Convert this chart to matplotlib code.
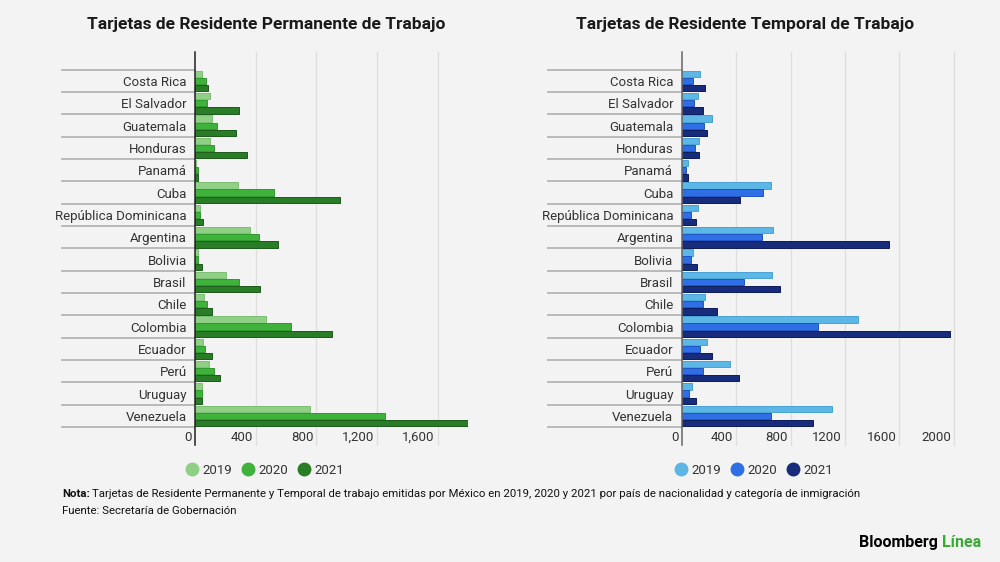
import matplotlib.pyplot as plt
from matplotlib.lines import Line2D
from matplotlib.transforms import ScaledTranslation, blended_transform_factory

plt.rcParams['font.family'] = ['Roboto', 'DejaVu Sans']

# datos
paises = ["Costa Rica", "El Salvador", "Guatemala", "Honduras", "Panamá", "Cuba",
          "República Dominicana", "Argentina", "Bolivia", "Brasil", "Chile",
          "Colombia", "Ecuador", "Perú", "Uruguay", "Venezuela"]
anios = ["2019", "2020", "2021"]

perm_2019 = [48, 97, 114, 101, 9, 286, 31, 365, 22, 207, 57, 471, 53, 92, 48, 757]
perm_2020 = [75, 79, 145, 123, 18, 524, 35, 422, 22, 290, 79, 634, 66, 128, 44, 1254]
perm_2021 = [84, 290, 268, 343, 22, 959, 53, 550, 44, 427, 114, 906, 114, 163, 44, 1800]

temp_2019 = [137, 123, 221, 128, 44, 653, 118, 672, 83, 663, 172, 1296, 187, 358, 74, 1104]
temp_2020 = [81, 91, 164, 96, 29, 596, 69, 589, 69, 459, 157, 1001, 137, 157, 54, 658]
temp_2021 = [172, 157, 187, 128, 44, 427, 103, 1524, 113, 721, 260, 1973, 226, 422, 103, 962]

perm_ticks = [0, 400, 800, 1200, 1600]
perm_ticklabels = ["0", "400", "800", "1,200", "1,600"]
temp_ticks = [0, 400, 800, 1200, 1600, 2000]
temp_ticklabels = ["0", "400", "800", "1200", "1600", "2000"]

verdes = ["#8fd086", "#3eb23a", "#2a7d27"]
verdes_borde = ["#7cbf73", "#2f9a2c", "#1c5a1a"]
azules = ["#5cb7e6", "#2f6fe6", "#172c7d"]
azules_borde = ["#4aa3d4", "#1f55c4", "#0d1c5a"]

BG = "#f3f3f3"

fig = plt.figure(figsize=(10, 5.62), dpi=100)
fig.patch.set_facecolor(BG)


def panel(rect, series, colors, edges, ticks, ticklabels, xmax, axis_color, sep_left):
    ax = fig.add_axes(rect)
    ax.set_facecolor(BG)
    n = len(paises)
    ypos = list(range(n))
    offsets = [-0.32, 0.0, 0.32]
    for vals, off, c, ec in zip(series, offsets, colors, edges):
        ax.barh([y + off for y in ypos], vals, height=0.28, color=c,
                edgecolor=ec, linewidth=0.7, zorder=3)
    ax.set_xlim(0, xmax)
    ax.set_ylim(n - 0.5, -1.3)
    for s in ax.spines.values():
        s.set_visible(False)
    # lineas de cuadricula y eje
    for t in ticks[1:]:
        ax.plot([t, t], [-1.3, n + 0.3], color="#dedede", lw=0.9, zorder=1, clip_on=False)
    ax.plot([0, 0], [-1.3, n + 0.3], color=axis_color, lw=1.1, zorder=4, clip_on=False)
    # separadores de categorias
    tr = blended_transform_factory(ax.transAxes, ax.transData)
    for i in range(n + 1):
        ax.plot([sep_left, 0], [i - 0.5, i - 0.5], color="#b4b4b4", lw=1.3,
                transform=tr, clip_on=False)
    ax.set_yticks(ypos)
    ax.set_yticklabels(paises, fontsize=9.5, color="#333333")
    ax.tick_params(axis="y", length=0, pad=6)
    ax.set_xticks(ticks)
    ax.set_xticklabels(ticklabels, fontsize=9.5, color="#333333", ha="right")
    ax.tick_params(axis="x", length=0, pad=3)
    off = ScaledTranslation(-2.2 / 72, 0, fig.dpi_scale_trans)
    for lab in ax.get_xticklabels():
        lab.set_transform(lab.get_transform() + off)
    return ax


panel([0.195, 0.2402, 0.273, 0.6673], [perm_2019, perm_2020, perm_2021],
      verdes, verdes_borde, perm_ticks, perm_ticklabels, 1800, "#222222", -0.487)
panel([0.6817, 0.2402, 0.2763, 0.6673], [temp_2019, temp_2020, temp_2021],
      azules, azules_borde, temp_ticks, temp_ticklabels, 2030, "#666666", -0.484)

fig.text(0.266, 0.957, "Tarjetas de Residente Permanente de Trabajo", ha="center",
         va="center", fontsize=12.5, fontweight="bold", color="#1a1a1a")
fig.text(0.745, 0.957, "Tarjetas de Residente Temporal de Trabajo", ha="center",
         va="center", fontsize=12.5, fontweight="bold", color="#1a1a1a")

# leyendas
for colors, cx in [(verdes, 0.265), (azules, 0.754)]:
    handles = [Line2D([], [], marker="o", ls="", markersize=9, color=c) for c in colors]
    fig.legend(handles, anios, loc="center", bbox_to_anchor=(cx, 0.1637), ncol=3,
               frameon=False, fontsize=9.5, handlelength=0.9, handletextpad=0.35,
               columnspacing=0.75, labelcolor="#333333")

# notas
fig.text(0.062, 0.121, "Nota:", fontsize=8.2, fontweight="bold", color="#111111", va="center")
fig.text(0.0915, 0.121, "Tarjetas de Residente Permanente y Temporal de trabajo emitidas por México "
         "en 2019, 2020 y 2021 por país de nacionalidad y categoría de inmigración",
         fontsize=8.2, color="#111111", va="center")
fig.text(0.062, 0.091, "Fuente: Secretaría de Gobernación", fontsize=8.2, color="#111111",
         va="center")

fig.text(0.938, 0.035, "Bloomberg", ha="right", va="center", fontsize=11.5,
         fontweight="bold", color="#000000")
fig.text(0.942, 0.035, "Línea", ha="left", va="center", fontsize=11.5,
         fontweight="bold", color="#3aaa35")

fig.savefig("out.png", dpi=100, facecolor=BG)
